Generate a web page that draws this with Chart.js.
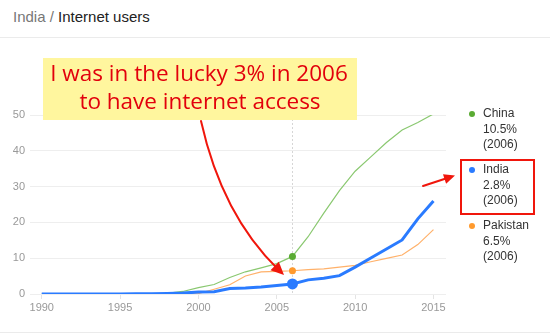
<!DOCTYPE html>
<html>
<head>
<meta charset="utf-8">
<title>India / Internet users</title>
<script src="https://cdn.jsdelivr.net/npm/chart.js@4"></script>
<style>
  html, body { margin: 0; padding: 0; background: #fff; }
  #wrap { position: relative; width: 550px; height: 335px; overflow: hidden; }
  #crumb { position: absolute; left: 13px; top: 8px; font: 15px/17px Arial, 'Liberation Sans', sans-serif; color: #777; white-space: nowrap; }
  #crumb span { color: #222; }
  .rule { position: absolute; left: 0; width: 550px; height: 1px; background: #ebebeb; }
  canvas { position: absolute; left: 0; top: 0; }
</style>
</head>
<body>
<div id="wrap">
  <div id="crumb">India / <span>Internet users</span></div>
  <div class="rule" style="top:37px"></div>
  <div class="rule" style="top:332px"></div>
  <canvas id="usersChart" width="550" height="335"></canvas>
</div>
<script>
// internet users, % of population
const years = [1990, 1991, 1992, 1993, 1994, 1995, 1996, 1997, 1998, 1999, 2000, 2001, 2002,
               2003, 2004, 2005, 2006, 2007, 2008, 2009, 2010, 2011, 2012, 2013, 2014, 2015];
const china = [0, 0, 0, 0, 0, 0, 0, 0.03, 0.17, 0.71, 1.78, 2.64, 4.6,
               6.2, 7.3, 8.5, 10.5, 16, 22.6, 28.9, 34.3, 38.3, 42.3, 45.8, 47.9, 50.3];
const india = [0, 0, 0, 0, 0, 0.03, 0.05, 0.07, 0.14, 0.27, 0.53, 0.66, 1.54,
               1.69, 1.98, 2.39, 2.8, 3.95, 4.38, 5.12, 7.5, 10.07, 12.58, 15.1, 21, 26];
const pakistan = [0, 0, 0, 0, 0, 0, 0, 0, 0, 0.05, 0.13, 1.32, 2.57,
                  5.04, 6.16, 6.33, 6.5, 6.8, 7, 7.5, 8, 9, 9.96, 10.9, 13.8, 18];
const xTicks = [1990, 1995, 2000, 2005, 2010, 2015];
const yTicks = [0, 10, 20, 30, 40, 50];
const pickedYear = 2006;
const noteLines = ['I was in the lucky 3% in 2006', 'to have internet access'];

const FONT = "Arial, 'Liberation Sans', sans-serif";
const pickedIdx = years.indexOf(pickedYear);

function points(values) {
  return years.map((y, i) => ({ x: y, y: values[i] }));
}

function series(label, values, line, dot, width, radius, order) {
  return {
    label,
    data: points(values),
    borderColor: line,
    backgroundColor: dot,
    pointBackgroundColor: dot,
    pointBorderWidth: 0,
    borderWidth: width,
    tension: 0,
    order,
    pointRadius: ctx => ctx.dataIndex === pickedIdx ? radius : 0,
    pointHoverRadius: ctx => ctx.dataIndex === pickedIdx ? radius : 0
  };
}

function arrowHead(ctx, x, y, angle, len, half) {
  ctx.beginPath();
  ctx.moveTo(x, y);
  ctx.lineTo(x - len * Math.cos(angle) + half * Math.sin(angle), y - len * Math.sin(angle) - half * Math.cos(angle));
  ctx.lineTo(x - len * Math.cos(angle) - half * Math.sin(angle), y - len * Math.sin(angle) + half * Math.cos(angle));
  ctx.closePath();
  ctx.fill();
}

// dotted marker line at the selected year
const yearLine = {
  id: 'yearLine',
  beforeDatasetsDraw(chart) {
    const { ctx, chartArea, scales } = chart;
    const x = Math.round(scales.x.getPixelForValue(pickedYear)) + 0.5;
    ctx.save();
    ctx.strokeStyle = '#d6d6d6';
    ctx.lineWidth = 1;
    ctx.setLineDash([2, 2]);
    ctx.beginPath();
    ctx.moveTo(x, chartArea.top);
    ctx.lineTo(x, chartArea.bottom);
    ctx.stroke();
    ctx.restore();
  }
};

// side legend with each country's value at the selected year
const sideLegend = {
  id: 'sideLegend',
  afterDraw(chart) {
    const { ctx } = chart;
    const sets = chart.data.datasets;
    const legendOrder = ['China', 'India', 'Pakistan'];
    ctx.save();
    ctx.font = '12px ' + FONT;
    ctx.textBaseline = 'middle';
    legendOrder.forEach((name, k) => {
      const ds = sets.find(d => d.label === name);
      const top = 114 + k * 56;
      ctx.fillStyle = ds.pointBackgroundColor;
      ctx.beginPath();
      ctx.arc(472, top, 3, 0, Math.PI * 2);
      ctx.fill();
      ctx.fillStyle = '#333';
      ctx.fillText(name, 483, top);
      ctx.fillText(ds.data[pickedIdx].y + '%', 483, top + 16);
      ctx.fillText('(' + pickedYear + ')', 483, top + 31);
    });
    ctx.restore();
  }
};

// yellow note with red arrows
const callout = {
  id: 'callout',
  afterDraw(chart) {
    const { ctx } = chart;
    ctx.save();
    ctx.fillStyle = 'rgb(255, 246, 158)';
    ctx.fillRect(43, 58, 314, 62);
    ctx.fillStyle = '#e2000c';
    ctx.font = "22.5px 'Open Sans', Lato, sans-serif";
    ctx.textAlign = 'center';
    ctx.textBaseline = 'middle';
    ctx.fillText(noteLines[0], 199, 75);
    ctx.fillText(noteLines[1], 200, 103);

    ctx.strokeStyle = '#f0160c';
    ctx.fillStyle = '#f0160c';
    ctx.lineWidth = 2;
    ctx.lineCap = 'round';
    // curved arrow down to the India point
    const tipX = 284, tipY = 275, cx = 222, cy = 215;
    const ang = Math.atan2(tipY - cy, tipX - cx);
    ctx.beginPath();
    ctx.moveTo(201, 121);
    ctx.quadraticCurveTo(cx, cy, tipX - 8 * Math.cos(ang), tipY - 8 * Math.sin(ang));
    ctx.stroke();
    arrowHead(ctx, tipX, tipY, ang, 13, 6);

    // short arrow pointing at the India legend entry
    const a2 = Math.atan2(175.5 - 186, 455 - 423);
    ctx.beginPath();
    ctx.moveTo(423, 186);
    ctx.lineTo(455 - 8 * Math.cos(a2), 175.5 - 8 * Math.sin(a2));
    ctx.stroke();
    arrowHead(ctx, 455, 175.5, a2, 11, 5);

    ctx.lineWidth = 2;
    ctx.strokeRect(461, 160, 73, 54);
    ctx.restore();
  }
};

new Chart(document.getElementById('usersChart'), {
  type: 'line',
  data: {
    datasets: [
      series('India', india, '#2a7bff', '#2a7bff', 3, 5.5, 0),
      series('Pakistan', pakistan, '#ffb16a', '#ff9a2e', 1.2, 3.5, 1),
      series('China', china, '#8ac870', '#5aab33', 1.2, 3.5, 2)
    ]
  },
  options: {
    responsive: false,
    animation: false,
    layout: { padding: { left: 0, top: 115, right: 104, bottom: 0 } },
    plugins: {
      legend: { display: false },
      tooltip: { enabled: false },
      title: { display: false }
    },
    scales: {
      x: {
        type: 'linear',
        min: 1989.25,
        max: 2015.8,
        afterBuildTicks: axis => { axis.ticks = xTicks.map(v => ({ value: v })); },
        afterFit: axis => { axis.height = 41; },
        grid: { drawOnChartArea: false, drawTicks: true, tickLength: 5, color: '#e4e4e4' },
        border: { display: false },
        ticks: {
          padding: 2,
          color: '#999',
          font: { family: FONT, size: 11 },
          maxRotation: 0,
          callback: v => String(v)
        }
      },
      y: {
        min: 0,
        max: 50,
        afterBuildTicks: axis => { axis.ticks = yTicks.map(v => ({ value: v })); },
        afterFit: axis => { axis.width = 30; },
        grid: { color: '#eeeeee', drawTicks: false },
        border: { display: false },
        ticks: {
          padding: 5,
          color: '#999',
          font: { family: FONT, size: 11 }
        }
      }
    }
  },
  plugins: [yearLine, sideLegend, callout]
});
</script>
</body>
</html>
